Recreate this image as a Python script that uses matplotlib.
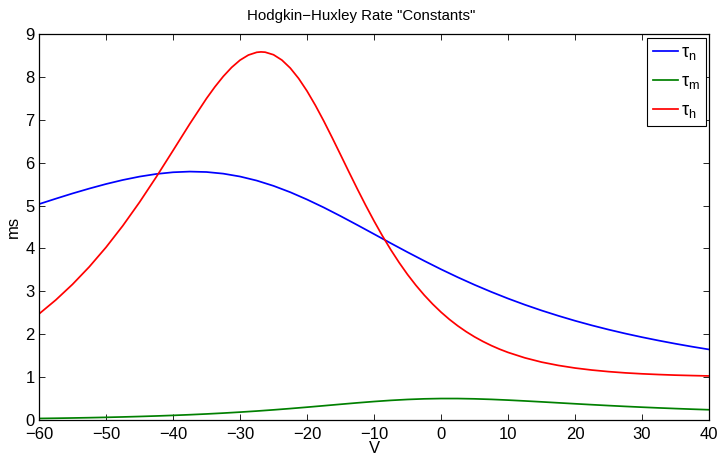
import matplotlib
matplotlib.use("Agg")
import matplotlib.pyplot as plt

plt.rcParams['font.family'] = ['Liberation Sans', 'DejaVu Sans']
plt.rcParams['mathtext.fontset'] = 'custom'
plt.rcParams['mathtext.rm'] = 'Liberation Sans'
plt.rcParams['mathtext.it'] = 'Liberation Sans'

# Voltage samples (mV) for tau_n and tau_m
v_nm = [-60, -57.5, -55, -52.5, -50, -47.5, -45, -42.5, -40, -37.5, -35, -32.5,
        -30, -27.5, -25, -22.5, -20, -17.5, -15, -12.5, -10, -7.5, -5, -2.5,
        0, 2.5, 5, 7.5, 10, 12.5, 15, 17.5, 20, 22.5, 25, 27.5, 30, 32.5, 35,
        37.5, 40]
tau_n = [5.034, 5.160, 5.282, 5.396, 5.502, 5.596, 5.675, 5.736, 5.776, 5.792,
         5.782, 5.744, 5.677, 5.582, 5.459, 5.311, 5.141, 4.955, 4.755, 4.547,
         4.335, 4.122, 3.913, 3.710, 3.514, 3.328, 3.152, 2.987, 2.832, 2.688,
         2.554, 2.430, 2.314, 2.207, 2.108, 2.016, 1.931, 1.852, 1.778, 1.709,
         1.645]
tau_m = [0.0358, 0.0411, 0.0472, 0.0542, 0.0622, 0.0714, 0.0820, 0.0940, 0.1078,
         0.1234, 0.1412, 0.1613, 0.1839, 0.2090, 0.2368, 0.2669, 0.2991, 0.3328,
         0.3669, 0.4001, 0.4310, 0.4578, 0.4790, 0.4935, 0.5007, 0.5005, 0.4935,
         0.4810, 0.4642, 0.4444, 0.4230, 0.4008, 0.3786, 0.3570, 0.3364, 0.3170,
         0.2989, 0.2821, 0.2666, 0.2522, 0.2391]

# Voltage samples (mV) for tau_h (denser near the peak and the knee)
v_h = [-60, -57.5, -55, -52.5, -50, -47.5, -45, -42.5, -40, -37.5,
       -35, -33.75, -32.5, -31.25, -30, -28.75, -27.5, -26.875, -26.25, -25,
       -23.75, -22.5, -21.25, -20, -18.75, -17.5, -16.25, -15, -13.75, -12.5,
       -11.25, -10, -8.75, -7.5, -6.25, -5, -3.75, -2.5, -1.25, 0, 1.25, 2.5,
       3.75, 5, 6.25, 7.5, 8.75, 10,
       12.5, 15, 17.5, 20, 22.5, 25, 27.5, 30, 32.5, 35, 37.5, 40]
tau_h = [2.473, 2.798, 3.163, 3.571, 4.026, 4.528, 5.077, 5.666, 6.282, 6.904,
         7.497, 7.767, 8.011, 8.221, 8.390, 8.509, 8.573, 8.582, 8.576, 8.516,
         8.392, 8.206, 7.963, 7.670, 7.336, 6.971, 6.584, 6.186, 5.785, 5.390,
         5.007, 4.641, 4.294, 3.970, 3.670, 3.393, 3.141, 2.911, 2.703, 2.515,
         2.346, 2.195, 2.060, 1.939, 1.832, 1.736, 1.651, 1.576,
         1.450, 1.350, 1.273, 1.212, 1.165, 1.128, 1.099, 1.077, 1.060, 1.046,
         1.036, 1.027]

labels = [r'$\tau_n$', r'$\tau_m$', r'$\tau_h$']
x_ticks = [-60, -50, -40, -30, -20, -10, 0, 10, 20, 30, 40]
y_ticks = [0, 1, 2, 3, 4, 5, 6, 7, 8, 9]

fig = plt.figure(figsize=(7.21, 4.55), dpi=100)
ax = fig.add_axes([0.0541, 0.0769, 0.9293, 0.8484])

ax.plot(v_nm, tau_n, color=(0, 0, 1), lw=1.25, label=labels[0])
ax.plot(v_nm, tau_m, color=(0, 0.5, 0), lw=1.25, label=labels[1])
ax.plot(v_h, tau_h, color=(1, 0, 0), lw=1.25, label=labels[2])

ax.set_xlim(-60, 40)
ax.set_ylim(0, 9)
ax.set_xticks(x_ticks)
ax.set_xticklabels([str(t).replace('-', '\u2212') for t in x_ticks])
ax.set_yticks(y_ticks)
ax.tick_params(direction='in', length=4.3, width=0.6, top=True, right=True,
               labelsize=12)
ax.tick_params(axis='x', pad=5)
ax.tick_params(axis='y', pad=3)
for s in ax.spines.values():
    s.set_linewidth(0.9)

ax.set_title('Hodgkin\u2212Huxley Rate "Constants"', fontsize=10.8, pad=10,
             x=0.4806)
ax.set_xlabel('V', fontsize=12)
ax.xaxis.set_label_coords(0.5, -0.054)
ax.set_ylabel('ms', fontsize=12)
ax.yaxis.set_label_coords(-0.027, 0.5)

leg = ax.legend(loc='upper right', bbox_to_anchor=(0.9955, 0.9896),
                borderaxespad=0, fontsize=13, fancybox=False, framealpha=1,
                edgecolor='black', handlelength=1.4, handletextpad=0.15,
                labelspacing=0.6, borderpad=0.35)
leg.get_frame().set_linewidth(0.8)

fig.savefig('out.png', dpi=100)
